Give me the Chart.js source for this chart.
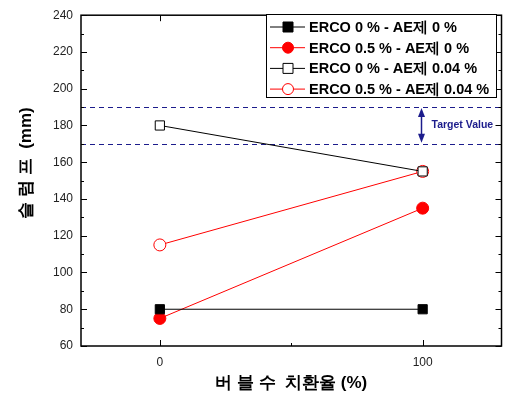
<!DOCTYPE html>
<html>
<head>
<meta charset="utf-8">
<script src="https://cdn.jsdelivr.net/npm/chart.js@4/dist/chart.umd.min.js"></script>
<style>
  html, body { margin: 0; padding: 0; background: #fff; }
  #wrap { width: 509px; height: 395px; }
</style>
</head>
<body>
<div id="wrap"><canvas id="grafico" width="509" height="395"></canvas></div>
<script>
// datos
const sustitucion = [0, 100];
const ercoCeroAeCero = [80, 80];
const ercoMedioAeCero = [75, 135];
const ercoCeroAe004 = [180, 155];
const ercoMedioAe004 = [115, 155];
const etiquetas = ["ERCO 0 % - AE제 0 %", "ERCO 0.5 % - AE제 0 %", "ERCO 0 % - AE제 0.04 %", "ERCO 0.5 % - AE제 0.04 %"];
const rangoObjetivo = [170, 190];
const ticksY = [60, 80, 100, 120, 140, 160, 180, 200, 220, 240];
const ticksX = [0, 100];

const NAVY = "#1c1c8c";
const FUENTE = "'Liberation Sans', Arial, sans-serif";

function serie(label, valores, color, forma, relleno) {
    return {
        label: label,
        data: sustitucion.map((x, i) => ({ x: x, y: valores[i] })),
        borderColor: color,
        backgroundColor: relleno ? color : "#fff",
        pointBackgroundColor: relleno ? color : "#fff",
        pointBorderColor: color,
        pointStyle: forma,
        pointRadius: forma === "rect" ? 6.5 : 6,
        pointBorderWidth: 1,
        borderWidth: 1,
        showLine: true
    };
}

const datasets = [
    serie(etiquetas[0], ercoCeroAeCero, "#000", "rect", true),
    serie(etiquetas[1], ercoMedioAeCero, "#ff0000", "circle", true),
    serie(etiquetas[2], ercoCeroAe004, "#000", "rect", false),
    serie(etiquetas[3], ercoMedioAe004, "#ff0000", "circle", false)
];

// marco, ticks interiores, lineas objetivo, leyenda y titulos
const decoracion = {
    id: "decoracion",
    beforeDatasetsDraw(chart) {
        const ctx = chart.ctx;
        const a = chart.chartArea;
        const x = chart.scales.x, y = chart.scales.y;
        ctx.save();
        // lineas objetivo
        ctx.strokeStyle = NAVY;
        ctx.lineWidth = 1;
        ctx.setLineDash([5, 4]);
        rangoObjetivo.forEach(v => {
            const py = Math.round(y.getPixelForValue(v)) + 0.5;
            ctx.beginPath();
            ctx.moveTo(a.left, py);
            ctx.lineTo(a.right, py);
            ctx.stroke();
        });
        ctx.setLineDash([]);
        // flecha
        const ax = Math.round(x.getPixelForValue(100)) - 1.5;
        const y1 = y.getPixelForValue(rangoObjetivo[1]) + 1;
        const y2 = y.getPixelForValue(rangoObjetivo[0]) - 1;
        ctx.lineWidth = 1.5;
        ctx.beginPath();
        ctx.moveTo(ax, y1 + 4);
        ctx.lineTo(ax, y2 - 4);
        ctx.stroke();
        ctx.fillStyle = NAVY;
        ctx.beginPath();
        ctx.moveTo(ax, y1); ctx.lineTo(ax - 3.5, y1 + 9); ctx.lineTo(ax + 3.5, y1 + 9); ctx.closePath();
        ctx.fill();
        ctx.beginPath();
        ctx.moveTo(ax, y2); ctx.lineTo(ax - 3.5, y2 - 9); ctx.lineTo(ax + 3.5, y2 - 9); ctx.closePath();
        ctx.fill();
        ctx.font = "bold 10.5px " + FUENTE;
        ctx.textBaseline = "middle";
        ctx.textAlign = "left";
        ctx.fillText("Target Value", ax + 10, (y1 + y2) / 2);
        ctx.restore();
    },
    afterDraw(chart) {
        const ctx = chart.ctx;
        const a = chart.chartArea;
        const x = chart.scales.x, y = chart.scales.y;
        ctx.save();
        ctx.strokeStyle = "#000";
        ctx.lineWidth = 1.5;
        ctx.strokeRect(a.left, a.top, a.right - a.left, a.bottom - a.top);
        ctx.lineWidth = 1;
        ctx.beginPath();
        for (let v = 60; v <= 240; v += 10) {
            const py = Math.round(y.getPixelForValue(v)) + 0.5;
            const l = v % 20 === 0 ? 6 : 3;
            ctx.moveTo(a.left, py); ctx.lineTo(a.left + l, py);
            ctx.moveTo(a.right, py); ctx.lineTo(a.right - l, py);
        }
        [0, 50, 100].forEach(v => {
            const px = Math.round(x.getPixelForValue(v)) + 0.5;
            const l = v % 100 === 0 ? 6 : 3;
            ctx.moveTo(px, a.bottom); ctx.lineTo(px, a.bottom - l);
            ctx.moveTo(px, a.top); ctx.lineTo(px, a.top + l);
        });
        ctx.stroke();

        // leyenda
        const lx = 266, ly = 14, lw = 230, lh = 83;
        ctx.fillStyle = "#fff";
        ctx.fillRect(lx, ly, lw, lh);
        ctx.strokeStyle = "#000";
        ctx.lineWidth = 1;
        ctx.strokeRect(lx + 0.5, ly + 0.5, lw, lh);
        ctx.font = "bold 14.5px " + FUENTE;
        ctx.textBaseline = "middle";
        ctx.textAlign = "left";
        chart.data.datasets.forEach((d, i) => {
            const cy = ly + 13 + i * 20.7;
            ctx.strokeStyle = d.borderColor;
            ctx.beginPath();
            ctx.moveTo(lx + 4, cy); ctx.lineTo(lx + 39, cy);
            ctx.stroke();
            ctx.fillStyle = d.pointBackgroundColor;
            ctx.beginPath();
            if (d.pointStyle === "rect") {
                ctx.rect(lx + 17, cy - 5, 10, 10);
            } else {
                ctx.arc(lx + 22, cy, 5.5, 0, Math.PI * 2);
            }
            ctx.fill();
            ctx.stroke();
            ctx.fillStyle = "#000";
            ctx.fillText(d.label, lx + 43, cy + 1);
        });

        // titulos de ejes
        ctx.font = "bold 17px " + FUENTE;
        ctx.textAlign = "center";
        ctx.fillStyle = "#000";
        ctx.fillText("버 블 수  치환율 (%)", (a.left + a.right) / 2, 383);
        ctx.translate(26, 163);
        ctx.rotate(-Math.PI / 2);
        ctx.fillText("슬 럼 프  (mm)", 0, 0);
        ctx.restore();
    }
};

new Chart(document.getElementById("grafico").getContext("2d"), {
    type: "scatter",
    data: { datasets: datasets },
    options: {
        responsive: false,
        animation: false,
        layout: { padding: { top: 9, right: 7, left: 0, bottom: 0 } },
        plugins: { legend: { display: false }, tooltip: { enabled: false } },
        scales: {
            x: {
                type: "linear",
                min: -30,
                max: 130,
                grid: { display: false, drawTicks: false },
                border: { display: false },
                afterBuildTicks: s => { s.ticks = ticksX.map(v => ({ value: v })); },
                afterFit: s => { s.height = 49; },
                ticks: { padding: 9, color: "#222", font: { family: FUENTE, size: 12 } }
            },
            y: {
                min: 60,
                max: 240,
                grid: { display: false, drawTicks: false },
                border: { display: false },
                afterBuildTicks: s => { s.ticks = ticksY.map(v => ({ value: v })); },
                afterFit: s => { s.width = 81; },
                ticks: { padding: 8, color: "#222", font: { family: FUENTE, size: 12 } }
            }
        }
    },
    plugins: [decoracion]
});
</script>
</body>
</html>
